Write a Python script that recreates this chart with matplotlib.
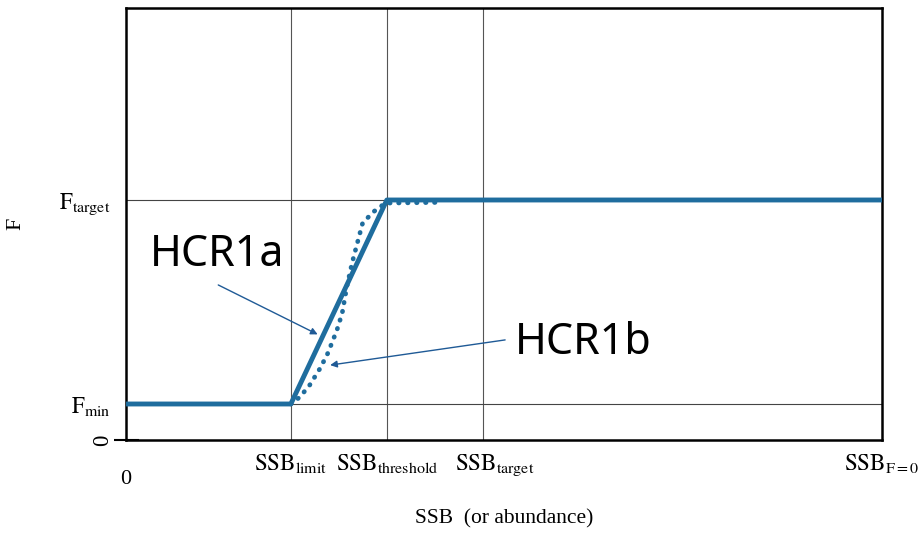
import matplotlib
matplotlib.use('Agg')
import matplotlib.pyplot as plt
from matplotlib.transforms import ScaledTranslation, blended_transform_factory

plt.rcParams['mathtext.fontset'] = 'stix'
plt.rcParams['font.family'] = ['Liberation Serif', 'DejaVu Serif']

# Reference points (relative units)
ssb_limit = 0.218
ssb_threshold = 0.345
ssb_target = 0.472
ssb_f0 = 1.0
f_min = 0.15
f_target = 1.0

# HCR1a: hockey stick
hcr1a_x = [0.0, ssb_limit, ssb_threshold, ssb_f0]
hcr1a_y = [f_min, f_min, f_target, f_target]

# HCR1b: smooth transition
hcr1b_x = [0.218, 0.230, 0.243, 0.257, 0.267, 0.279, 0.286, 0.292, 0.299,
           0.306, 0.313, 0.327, 0.343, 0.415]
hcr1b_y = [0.150, 0.179, 0.229, 0.300, 0.362, 0.458, 0.529, 0.637, 0.737,
           0.821, 0.904, 0.950, 0.987, 0.990]

xtick_pos = [ssb_limit, ssb_threshold, ssb_target, ssb_f0]
xtick_labels = [r'$\mathrm{SSB}_{\mathrm{limit}}$', r'$\mathrm{SSB}_{\mathrm{threshold}}$',
                r'$\mathrm{SSB}_{\mathrm{target}}$', r'$\mathrm{SSB}_{\mathrm{F=0}}$']
ytick_pos = [0.0, f_min, f_target]
ytick_labels = ['0', r'$\mathrm{F}_{\mathrm{min}}$', r'$\mathrm{F}_{\mathrm{target}}$']

blue = '#1f6d9e'
arrow_blue = '#1f5a96'
sans = ['Noto Sans', 'DejaVu Sans']

fig = plt.figure(figsize=(9.24, 5.33), dpi=100)
ax = fig.add_axes([0.1364, 0.1745, 0.8181, 0.8105])
ax.set_xlim(0, 1)
ax.set_ylim(0, 1.8)

# reference lines
for x in [ssb_limit, ssb_threshold, ssb_target]:
    ax.axvline(x, color='#555555', lw=0.8, zorder=1)
for y in [f_min, f_target]:
    ax.axhline(y, color='#444444', lw=0.8, zorder=1)

ax.plot(hcr1b_x, hcr1b_y, color=blue, lw=3.4, linestyle=(0, (0.1, 1.8)),
        dash_capstyle='round', zorder=3)
ax.plot(hcr1a_x, hcr1a_y, color=blue, lw=3.5, solid_capstyle='butt', zorder=4,
        clip_on=False)

# annotations
ax.text(0.032, 0.77, 'HCR1a', fontsize=31, family=sans, ha='left', va='center', zorder=5)
ax.annotate('', xy=(0.2535, 0.44), xytext=(0.122, 0.646),
            arrowprops=dict(arrowstyle='-|>', color=arrow_blue, lw=1.0,
                            mutation_scale=10, shrinkA=0, shrinkB=0), zorder=5)
ax.annotate('', xy=(0.270, 0.312), xytext=(0.5015, 0.417),
            arrowprops=dict(arrowstyle='-|>', color=arrow_blue, lw=1.0,
                            mutation_scale=10, shrinkA=0, shrinkB=0), zorder=5)
ax.text(0.514, 0.405, 'HCR1b', fontsize=31, family=sans,
        ha='left', va='center', zorder=5)

ax.set_xticks(xtick_pos)
ax.set_xticklabels(xtick_labels, fontsize=16.5)
ax.tick_params(axis='x', length=0, pad=9)
ax.set_yticks(ytick_pos)
ax.set_yticklabels(ytick_labels, fontsize=16.5)
ax.tick_params(axis='y', direction='inout', length=18, width=1.5, pad=2)
yt = ax.yaxis.get_major_ticks()
for t in yt[1:]:
    t.tick1line.set_visible(False)
yl = ax.get_yticklabels()
yl[0].set_rotation(90)
yl[0].set_va('center')
yl[0].set_transform(yl[0].get_transform() + ScaledTranslation(0.02, 0, fig.dpi_scale_trans))
xl = ax.get_xticklabels()
xl[2].set_transform(xl[2].get_transform() + ScaledTranslation(0.12, 0, fig.dpi_scale_trans))

trans = blended_transform_factory(ax.transData, ax.transAxes)
ax.text(0.0, -0.07, '0', transform=trans, fontsize=16, ha='center', va='top')

ax.set_xlabel('SSB  (or abundance)', fontsize=15.5)
ax.xaxis.set_label_coords(0.5, -0.16)
ax.set_ylabel('F', fontsize=16, labelpad=24)

for s in ax.spines.values():
    s.set_linewidth(1.8)
    s.set_color('black')

fig.savefig('out.png', dpi=100)
